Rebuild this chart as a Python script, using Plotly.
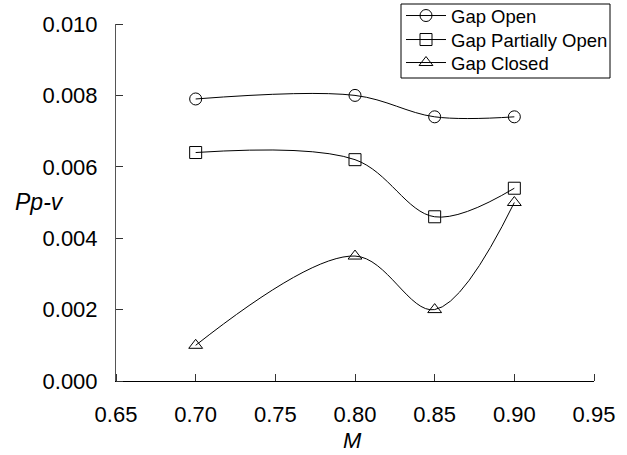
import plotly.graph_objects as go

# Mach number and peak-to-valley values for each gap configuration
mach = [0.70, 0.80, 0.85, 0.90]
gap_open = [0.0079, 0.0080, 0.0074, 0.0074]
gap_partial = [0.0064, 0.0062, 0.0046, 0.0054]
gap_closed = [0.0010, 0.0035, 0.0020, 0.0050]

series_names = ["Gap Open", "Gap Partially Open", "Gap Closed"]
x_ticks = [0.65, 0.70, 0.75, 0.80, 0.85, 0.90, 0.95]
y_ticks = [0.000, 0.002, 0.004, 0.006, 0.008, 0.010]

FONT = "Liberation Sans, Arial, sans-serif"
FIG_W, FIG_H = 627, 455

# plot area in pixels; margins are zero so paper units equal figure fractions
L, R, T, B = 116, 594, 24, 381


def fx(p):
    return p / FIG_W


def fy(p):
    return 1 - p / FIG_H


legend_ids = ["legend", "legend2", "legend3"]
row_centers = [16, 40, 63]

fig = go.Figure()
for name, vals, sym, lg in zip(series_names,
                               [gap_open, gap_partial, gap_closed],
                               ["circle-open", "square-open", "triangle-up-open"],
                               legend_ids):
    fig.add_trace(go.Scatter(
        x=mach, y=vals, name=name, mode="lines+markers", legend=lg,
        line=dict(color="black", width=1, shape="spline", smoothing=1),
        marker=dict(symbol=sym, size=12, color="black",
                    line=dict(color="black", width=1)),
    ))

legend_style = dict(
    xanchor="left", yanchor="middle",
    borderwidth=0, bgcolor="rgba(0,0,0,0)",
    font=dict(family=FONT, size=18.5, color="black"),
    itemwidth=40,
)

# visible tick marks point into the plot (minor ticks); the transparent
# outside major ticks only set the gap between axis line and labels
inner_ticks = dict(ticks="inside", ticklen=7, tickcolor="#333", tickwidth=1,
                   showgrid=False)

fig.update_layout(
    width=FIG_W, height=FIG_H,
    margin=dict(l=0, r=0, t=0, b=0, autoexpand=False),
    paper_bgcolor="white", plot_bgcolor="white",
    font=dict(family=FONT, size=22, color="black"),
    showlegend=True,
    legend=dict(x=fx(401), y=fy(row_centers[0]), **legend_style),
    legend2=dict(x=fx(401), y=fy(row_centers[1]), **legend_style),
    legend3=dict(x=fx(401), y=fy(row_centers[2]), **legend_style),
    shapes=[dict(type="rect", xref="paper", yref="paper",
                 x0=fx(401), x1=fx(610), y0=fy(78), y1=fy(4),
                 line=dict(color="black", width=1), fillcolor="rgba(0,0,0,0)")],
    xaxis=dict(
        domain=[fx(L), fx(R)], automargin=False,
        range=[0.65, 0.95], tickvals=x_ticks,
        ticktext=[f"{v:.2f}" for v in x_ticks],
        showgrid=False, zeroline=False,
        showline=True, linecolor="black", linewidth=1,
        ticks="outside", ticklen=14, tickcolor="rgba(0,0,0,0)",
        minor=dict(tickvals=x_ticks, **inner_ticks),
        tickfont=dict(family=FONT, size=22, color="black"),
    ),
    yaxis=dict(
        domain=[fy(B), fy(T)], automargin=False,
        range=[0, 0.010], tickvals=y_ticks,
        ticktext=[f"{v:.3f}" for v in y_ticks],
        showgrid=False, zeroline=False,
        showline=True, linecolor="#555", linewidth=1,
        ticks="outside", ticklen=13, tickcolor="rgba(0,0,0,0)",
        minor=dict(tickvals=y_ticks, **inner_ticks),
        tickfont=dict(family=FONT, size=22, color="black"),
    ),
    annotations=[
        dict(text="<i>Pp-v</i>", xref="paper", yref="paper",
             x=fx(39), y=fy(202), xanchor="center", yanchor="middle",
             showarrow=False, font=dict(family=FONT, size=23, color="black")),
        dict(text="<i>M</i>", xref="paper", yref="paper",
             x=fx(352), y=fy(440), xanchor="center", yanchor="middle",
             showarrow=False, font=dict(family=FONT, size=22, color="black")),
    ],
)

fig.write_html("out.html")
